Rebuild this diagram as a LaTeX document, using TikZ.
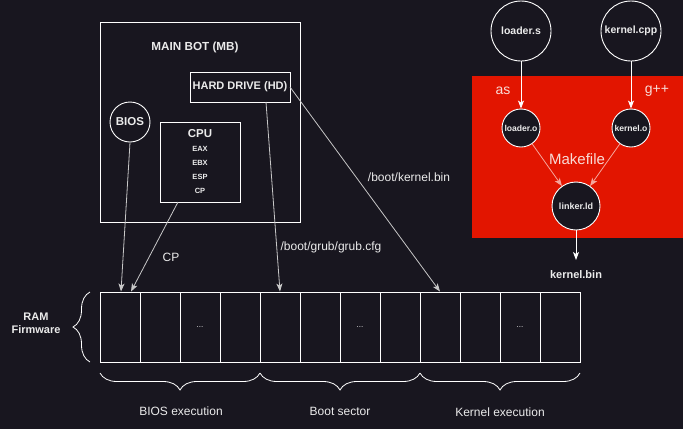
\documentclass[tikz,border=0pt]{standalone}
\usepackage{fontspec}
\setmainfont{Liberation Sans}
\usetikzlibrary{arrows.meta,decorations.pathreplacing,calc}
\definecolor{bg}{RGB}{24,22,31}
\definecolor{txt}{RGB}{235,235,235}
\definecolor{conn}{RGB}{200,200,200}
\definecolor{redbox}{RGB}{226,21,0}
\definecolor{pinktxt}{RGB}{248,220,215}
\definecolor{pinkline}{RGB}{245,165,155}
\tikzset{
  fs/.style={font=\fontsize{#1}{#1}\selectfont},
  box/.style={draw=white, line width=0.9pt, inner sep=0pt, fill=bg},
  circ/.style={draw=white, line width=0.9pt, circle, inner sep=0pt, fill=bg, text=txt},
  cell/.style={draw=white, line width=0.9pt, minimum width=40pt, minimum height=70pt, inner sep=0pt},
  lbl/.style={text=txt, inner sep=0pt},
  conarrow/.style={draw=conn, line width=0.8pt, -{Stealth[length=8pt,width=6pt,inset=2pt]}},
  warrow/.style={draw=white, line width=0.8pt, -{Stealth[length=8pt,width=6pt,inset=2pt]}},
  parrow/.style={draw=pinkline, line width=0.8pt, -{Stealth[length=8pt,width=6pt,inset=2pt]}},
  brc/.style={draw=white, line width=0.8pt, decorate, decoration={brace, amplitude=17pt}},
}
\begin{document}
\begin{tikzpicture}[x=1pt,y=-1pt]
\fill[bg] (0,0) rectangle (683,429);
\useasboundingbox (0,0) rectangle (683,429);

% Main board
\node[box, minimum width=200pt, minimum height=200pt] (mb) at (200,122) {};
\node[lbl, font=\bfseries\fontsize{11.7}{12}\selectfont] (mbl) at (195,47) {MAIN BOT (MB)};
\node[box, minimum width=100pt, minimum height=30pt, text=txt, font=\bfseries\fontsize{11}{12}\selectfont] (hd) at (240,87) {HARD DRIVE (HD)};
\node[circ, minimum size=40pt, font=\bfseries\fontsize{11.5}{12}\selectfont] (bios) at (130,122) {BIOS};
\node[box, minimum width=80pt, minimum height=80pt] (cpu) at (200,162) {};
\node[lbl, font=\bfseries\fontsize{11.5}{12}\selectfont] (cpul) at (200,134) {CPU};
\node[lbl, font=\bfseries\fontsize{7.5}{8}\selectfont] (eax) at (200,148.5) {EAX};
\node[lbl, font=\bfseries\fontsize{7.5}{8}\selectfont] (ebx) at (200,162.5) {EBX};
\node[lbl, font=\bfseries\fontsize{7.5}{8}\selectfont] (esp) at (200,177) {ESP};
\node[lbl, font=\bfseries\fontsize{7.5}{8}\selectfont] (cpr) at (200,191) {CP};

% Makefile area
\fill[redbox] (472,76) rectangle (683,238);
\node[circ, minimum size=60pt, font=\bfseries\fontsize{10.5}{11}\selectfont] (ls) at (521,31) {loader.s};
\node[circ, minimum size=60pt, font=\bfseries\fontsize{10.5}{11}\selectfont] (kc) at (631,31) {kernel.cpp};
\node[circ, minimum size=38pt, font=\bfseries\fontsize{8.6}{9}\selectfont] (lo) at (521,128) {loader.o};
\node[circ, minimum size=38pt, font=\bfseries\fontsize{8.6}{9}\selectfont] (ko) at (631,128) {kernel.o};
\node[circ, minimum size=48pt, font=\bfseries\fontsize{9}{10}\selectfont] (ld) at (576,206) {linker.ld};
\node[inner sep=0pt, text=pinktxt, fs=14] (as) at (503,91) {as};
\node[inner sep=0pt, text=pinktxt, fs=14] (gpp) at (657,91) {g++};
\node[inner sep=0pt, text=pinktxt, fs=15] (mk) at (577,159) {Makefile};
\node[lbl, font=\bfseries\fontsize{11}{12}\selectfont] (kb) at (576,275) {kernel.bin};
\coordinate (kbtip) at (576,260);

\draw[warrow] (ls) -- (lo);
\draw[warrow] (kc) -- (ko);
\draw[parrow] (lo) -- (ld);
\draw[parrow] (ko) -- (ld);
\draw[warrow] (ld) -- (kbtip);

% RAM cells
\foreach \i in {0,...,11}{
  \node[cell] (c\i) at ({120+40*\i},327) {};
}
\node[lbl, fs=8] (d1) at (c2) {...};
\node[lbl, fs=8] (d2) at (c6) {...};
\node[lbl, fs=8] (d3) at (c10) {...};

% Braces
\coordinate (lbA) at (90,362);
\coordinate (lbB) at (90,292);
\draw[brc] (lbA) -- (lbB);
\node[lbl, align=center, font=\bfseries\fontsize{11}{13}\selectfont] (ram) at (36,323) {RAM\\Firmware};

\coordinate (bA) at (100,373);
\coordinate (bB) at (260,373);
\coordinate (bC) at (420,373);
\coordinate (bD) at (580,373);
\draw[brc] (bB) -- (bA);
\draw[brc] (bC) -- (bB);
\draw[brc] (bD) -- (bC);
\node[lbl, fs=12] (be) at (181,411) {BIOS execution};
\node[lbl, fs=12] (bs) at (340,411) {Boot sector};
\node[lbl, fs=12] (ke) at (500,412) {Kernel execution};

% Connectors to RAM
\coordinate (cpuout) at (178,202);
\coordinate (hdout) at (266,102);
\coordinate (hdr) at (290,87);
\draw[conarrow] (bios.south) -- ($(c0.north)+(1,0)$);
\draw[conarrow] (cpuout) -- ($(c0.north)+(11,0)$);
\draw[conarrow] (hdout) -- (c4.north);
\draw[conarrow] (hdr) -- (c8.north);
\node[lbl, fs=12] (cpl) at (171,257) {CP};
\node[lbl, fs=12] (grub) at (331,247) {/boot/grub/grub.cfg};
\node[lbl, fs=12] (kbin) at (409,177) {/boot/kernel.bin};
\end{tikzpicture}
\end{document}
